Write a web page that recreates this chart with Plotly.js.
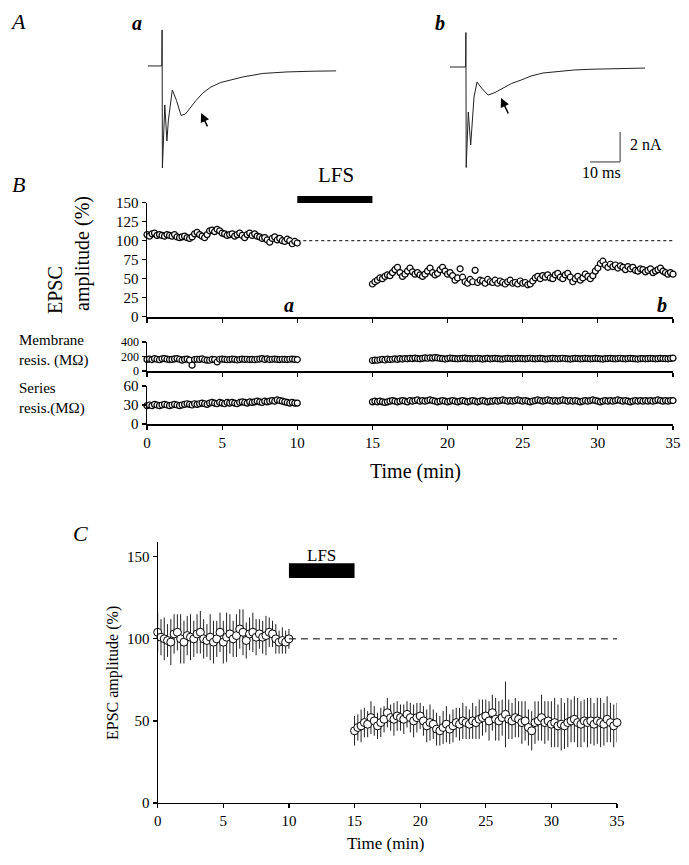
<!DOCTYPE html>
<html><head><meta charset="utf-8">
<script src="https://cdn.plot.ly/plotly-3.0.1.min.js"></script>
<style>html,body{margin:0;padding:0;background:#fff}#plot{width:689px;height:865px}</style>
</head><body><div id="plot"></div>
<script>
// ---------- Panel A traces (ms, nA) ----------
const traceA_t = [0,4.6,4.7,4.8,5.6,6.3,6.8,8.1,9.5,11.0,12.5,14.0,16.0,18.3,21,24.3,28,31.7,38.3,46.3,55,62.7];
const traceA_i = [0,0,2.4,-6.8,-2.6,-5.0,-3.6,-1.6,-2.3,-3.3,-3.2,-2.8,-2.3,-1.8,-1.4,-1.1,-0.9,-0.73,-0.5,-0.4,-0.35,-0.33];
const traceB_t = [0,5.2,5.3,5.4,6.1,6.9,8.0,9.0,10.5,12.7,15,17.8,20.5,23.7,27,31,36,41.3,47,53,65];
const traceB_i = [0,0,2.3,-6.7,-3.0,-5.2,-2.0,-1.0,-1.4,-1.87,-1.7,-1.4,-1.1,-0.87,-0.6,-0.4,-0.3,-0.2,-0.15,-0.13,-0.07];
const arrowA = [17.7,-3.13], arrowB = [17.0,-2.07];
const scaleMs = 10, scaleNA = 2;

// ---------- Panel B (single cell), sampled every 10 s ----------
const bStep = 1/6, bPreStart = 0, bPostStart = 15;
const epscPre = [108,106,109,110,107,108,107,106,108,107,
106,108,105,104,105,106,104,103,105,109,
111,108,106,104,108,113,114,112,115,113,
110,109,107,108,109,106,108,110,107,104,
108,110,107,109,106,105,103,104,101,98,
103,105,101,103,100,99,102,100,96,99,97];
const epscPost = [43,46,48,51,50,53,55,54,58,62,
65,58,53,56,60,64,59,56,58,55,
53,56,60,64,58,55,57,62,65,60,
56,58,54,48,51,63,52,46,44,49,
46,61,45,48,47,44,49,46,45,48,
44,47,45,43,46,48,44,45,43,47,
44,45,42,43,47,51,53,50,54,52,
55,51,50,55,57,52,50,55,57,52,
46,50,53,48,51,56,53,50,54,60,
64,70,73,68,65,69,66,68,64,67,
65,62,66,63,65,61,60,63,62,59,
61,63,58,60,62,64,60,58,56,58,56];
const memPre = [160,165,158,170,162,155,168,172,163,158,
160,166,171,162,150,160,165,150,80,158,
162,160,168,155,150,148,160,158,125,162,
165,160,155,158,163,160,152,158,165,160,
162,158,160,155,162,165,170,160,168,158,
162,165,160,158,162,160,158,162,165,160,158];
const memPost = [145,150,148,155,160,152,165,158,162,168,
160,170,165,172,168,175,170,178,172,168,
175,180,176,182,178,185,180,175,170,165,
172,178,175,170,168,172,175,178,172,170,
168,172,176,170,165,170,174,168,172,175,
170,168,165,170,174,172,168,170,175,172,
170,168,172,176,170,168,172,175,170,165,
168,172,175,170,168,172,176,170,168,165,
170,174,172,168,170,175,172,168,170,174,
172,168,165,170,172,175,170,168,172,176,
170,168,172,175,170,168,165,170,172,168,
170,174,172,168,170,175,172,170,168,174,178];
const serPre = [29,30,29,31,30,29,30,31,30,29,
30,31,30,29,30,31,32,31,30,32,
31,32,33,32,31,33,34,33,32,34,
33,32,34,33,34,33,32,34,35,34,
33,35,34,35,36,35,34,36,35,36,
37,36,38,37,36,35,34,33,34,33,33];
const serPost = [35,36,35,36,35,34,35,36,37,36,
35,36,37,36,35,37,36,37,38,36,
37,36,37,38,37,36,35,36,37,36,
35,36,37,36,35,36,37,36,35,36,
37,36,35,36,37,36,35,36,36,37,
36,37,38,37,36,37,36,37,38,37,
36,37,36,35,36,37,38,37,36,37,
38,37,36,37,36,37,38,37,36,37,
36,37,36,35,36,37,36,37,38,37,
36,35,36,37,36,37,36,37,38,37,
36,37,36,35,36,37,36,37,36,37,
36,37,36,37,38,37,36,37,36,37,37];

// ---------- Panel C (group mean ± SEM), sampled every 15 s ----------
const cStep = 0.25, cPreStart = 0, cPostStart = 15;
const cPre = [104,101,100,99,98,103,104,100,98,102,
101,100,103,104,100,99,101,98,100,104,
98,101,103,100,102,106,104,99,103,104,
101,103,101,102,104,103,100,98,99,98,100];
const cPreErr = [12,11,13,10,14,12,11,15,13,12,
14,11,12,13,12,10,14,13,11,12,
13,15,12,11,13,12,14,11,10,12,
11,9,10,12,9,8,9,7,8,7,6];
const cPost = [44,46,47,49,48,52,50,47,49,51,
55,52,51,53,52,51,54,52,50,52,
53,50,47,49,48,45,44,46,48,45,
47,49,48,50,49,48,50,49,51,52,
53,50,55,51,50,52,54,51,50,52,
51,49,50,46,44,49,50,52,49,50,
48,49,47,48,47,49,50,51,49,48,
50,49,50,48,50,49,48,51,49,47,49];
const cPostErr = [9,8,10,9,8,10,9,8,9,8,
9,8,10,9,8,9,8,9,10,9,
8,9,10,11,9,10,9,10,11,9,
10,9,10,11,10,9,11,10,12,11,
10,12,11,13,12,11,20,12,11,12,
11,13,12,11,12,13,12,14,13,12,
14,15,13,16,14,15,13,14,15,14,
13,15,14,13,14,15,13,14,12,13,12];

const lfs = [10, 15];
const baseline = 100;
const bTicks = [0,5,10,15,20,25,30,35];

function times(start, step, n){ const t=[]; for(let i=0;i<n;i++) t.push(start+i*step); return t; }

// ---------- layout helpers (pixel -> paper) ----------
const W=689, H=865;
const px = x => x/W, py = y => 1 - y/H;
const SERIF = 'Liberation Serif';

const bMarker = {symbol:'circle', size:6, color:'#fff', line:{color:'#000', width:1.2}};
const cMarker = {symbol:'circle', size:8, color:'#fff', line:{color:'#000', width:1}};

const traces = [
  {x:traceA_t, y:traceA_i, xaxis:'x', yaxis:'y', mode:'lines', line:{color:'#222', width:1}},
  {x:traceB_t, y:traceB_i, xaxis:'x2', yaxis:'y2', mode:'lines', line:{color:'#222', width:1}},
  {x:times(bPreStart,bStep,epscPre.length), y:epscPre, xaxis:'x3', yaxis:'y3', mode:'markers', marker:bMarker, cliponaxis:false},
  {x:times(bPostStart,bStep,epscPost.length), y:epscPost, xaxis:'x3', yaxis:'y3', mode:'markers', marker:bMarker, cliponaxis:false},
  {x:times(bPreStart,bStep,memPre.length), y:memPre, xaxis:'x4', yaxis:'y4', mode:'markers', marker:bMarker, cliponaxis:false},
  {x:times(bPostStart,bStep,memPost.length), y:memPost, xaxis:'x4', yaxis:'y4', mode:'markers', marker:bMarker, cliponaxis:false},
  {x:times(bPreStart,bStep,serPre.length), y:serPre, xaxis:'x5', yaxis:'y5', mode:'markers', marker:bMarker, cliponaxis:false},
  {x:times(bPostStart,bStep,serPost.length), y:serPost, xaxis:'x5', yaxis:'y5', mode:'markers', marker:bMarker, cliponaxis:false},
  {x:times(cPreStart,cStep,cPre.length), y:cPre, xaxis:'x6', yaxis:'y6', mode:'markers', marker:cMarker, cliponaxis:false,
   error_y:{type:'data', array:cPreErr, visible:true, thickness:1, width:0, color:'#222'}},
  {x:times(cPostStart,cStep,cPost.length), y:cPost, xaxis:'x6', yaxis:'y6', mode:'markers', marker:cMarker, cliponaxis:false,
   error_y:{type:'data', array:cPostErr, visible:true, thickness:1, width:0, color:'#222'}}
];

const hidden = {visible:false, fixedrange:true};
const axBase = {showgrid:false, zeroline:false, showline:true, linecolor:'#000', linewidth:1.5,
  ticks:'outside', ticklen:4, tickwidth:1.2, tickcolor:'#000',
  tickfont:{family:SERIF, size:15, color:'#000'}};

const bxDom = [px(147), px(673)];
const layout = {
  width:W, height:H, margin:{l:0,r:0,t:0,b:0}, paper_bgcolor:'#fff', plot_bgcolor:'rgba(0,0,0,0)',
  showlegend:false, font:{family:SERIF, color:'#000'},
  xaxis: Object.assign({}, hidden, {domain:[px(148),px(340)], range:[0,64], anchor:'y'}),
  yaxis: Object.assign({}, hidden, {domain:[py(175),py(25)], range:[-7.27,2.73], anchor:'x'}),
  xaxis2: Object.assign({}, hidden, {domain:[px(450),px(660)], range:[0,70], anchor:'y2'}),
  yaxis2: Object.assign({}, hidden, {domain:[py(175),py(25)], range:[-7.2,2.8], anchor:'x2'}),
  xaxis3: Object.assign({}, axBase, {domain:bxDom, range:[0,35], anchor:'y3', tickvals:bTicks, showticklabels:false, linewidth:2}),
  yaxis3: Object.assign({}, axBase, {domain:[py(316.7),py(202.7)], range:[0,150], anchor:'x3', tickvals:[0,25,50,75,100,125,150]}),
  xaxis4: Object.assign({}, axBase, {domain:bxDom, range:[0,35], anchor:'y4', tickvals:bTicks, showticklabels:false, linewidth:2}),
  yaxis4: Object.assign({}, axBase, {domain:[py(371),py(342)], range:[0,400], anchor:'x4', tickvals:[0,200,400],
    tickfont:{family:SERIF, size:12, color:'#000'}}),
  xaxis5: Object.assign({}, axBase, {domain:bxDom, range:[0,35], anchor:'y5', tickvals:bTicks}),
  yaxis5: Object.assign({}, axBase, {domain:[py(424),py(386)], range:[0,60], anchor:'x5', tickvals:[0,30,60]}),
  xaxis6: Object.assign({}, axBase, {domain:[px(157.7),px(617)], range:[0,35], anchor:'y6', tickvals:bTicks, linewidth:1.2}),
  yaxis6: Object.assign({}, axBase, {domain:[py(803),py(542)], range:[0,159], anchor:'x6', tickvals:[0,50,100,150], linewidth:1.2}),
  shapes: [
    {type:'rect', xref:'x3', yref:'paper', x0:lfs[0], x1:lfs[1], y0:py(203), y1:py(196), fillcolor:'#000', line:{width:0}},
    {type:'rect', xref:'x6', yref:'y6', x0:lfs[0], x1:lfs[1], y0:137, y1:146, fillcolor:'#000', line:{width:0}},
    {type:'line', xref:'x3', yref:'y3', x0:lfs[0], x1:35, y0:baseline, y1:baseline, line:{color:'#000', width:1, dash:'3px,3px'}},
    {type:'line', xref:'x6', yref:'y6', x0:lfs[0], x1:35, y0:baseline, y1:baseline, line:{color:'#000', width:1, dash:'7px,5px'}},
    {type:'line', xref:'x2', yref:'y2', x0:56.7-scaleMs, x1:56.7, y0:-6.33, y1:-6.33, line:{color:'#333', width:1}},
    {type:'line', xref:'x2', yref:'y2', x0:56.7, x1:56.7, y0:-6.33, y1:-6.33+scaleNA, line:{color:'#333', width:1}}
  ],
  annotations: []
};

function txt(text, x, y, size, opts){
  return Object.assign({text:text, xref:'paper', yref:'paper', x:px(x), y:py(y), showarrow:false,
    xanchor:'center', yanchor:'middle', font:{family:SERIF, size:size, color:'#000'}}, opts||{});
}
layout.annotations.push(
  txt('<i>A</i>', 18, 22, 22),
  txt('<i>B</i>', 18, 185, 22),
  txt('<i>C</i>', 80, 533, 22),
  txt('<b><i>a</i></b>', 137, 23, 20),
  txt('<b><i>b</i></b>', 440, 23, 20),
  txt('<b><i>a</i></b>', 289, 305, 20),
  txt('<b><i>b</i></b>', 662, 305, 20),
  txt('LFS', 336, 175, 21),
  txt('LFS', 321, 555, 17),
  txt('2 nA', 628, 145, 16, {xanchor:'left'}),
  txt('10 ms', 601, 173, 16),
  txt('EPSC', 55, 290, 20, {textangle:-90}),
  txt('amplitude (%)', 83, 254, 20, {textangle:-90}),
  txt('Membrane<br>resis. (MΩ)', 17, 351, 15, {xanchor:'left', align:'left'}),
  txt('Series<br>resis.(MΩ)', 17, 398, 15, {xanchor:'left', align:'left'}),
  txt('Time (min)', 415, 472, 20),
  txt('Time (min)', 385, 843, 17),
  txt('EPSC amplitude (%)', 113, 673, 16, {textangle:-90}),
  {x:arrowA[0], y:arrowA[1], xref:'x', yref:'y', showarrow:true, arrowhead:2, arrowsize:1.2, arrowwidth:1.5, arrowcolor:'#000', ax:7, ay:15, text:''},
  {x:arrowB[0], y:arrowB[1], xref:'x2', yref:'y2', showarrow:true, arrowhead:2, arrowsize:1.2, arrowwidth:1.5, arrowcolor:'#000', ax:8, ay:17, text:''}
);

Plotly.newPlot('plot', traces, layout, {staticPlot:true, displayModeBar:false});
</script></body></html>
